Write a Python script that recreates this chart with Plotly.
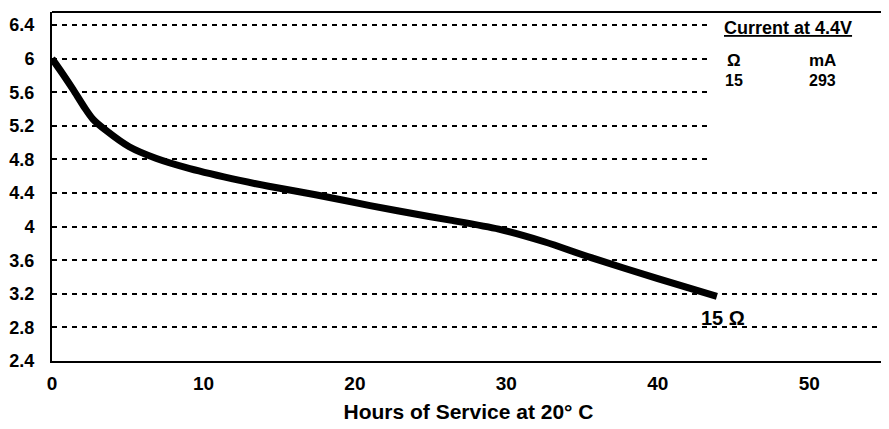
import plotly.graph_objects as go

hours = [0, 0.7, 1.4, 2.1, 2.7, 3.6, 5.1, 6.9, 9.1, 12.4, 14.3, 17.4, 21.0, 24.9, 26.2, 29.5, 32.5, 35.6, 40.0, 43.9]
voltage = [6.0, 5.82, 5.63, 5.43, 5.28, 5.14, 4.95, 4.81, 4.69, 4.55, 4.48, 4.38, 4.25, 4.12, 4.08, 3.97, 3.82, 3.63, 3.38, 3.17]

y_ticks = [2.4, 2.8, 3.2, 3.6, 4.0, 4.4, 4.8, 5.2, 5.6, 6.0, 6.4]
y_tick_text = ["2.4", "2.8", "3.2", "3.6", "4", "4.4", "4.8", "5.2", "5.6", "6", "6.4"]
x_ticks = [0, 10, 20, 30, 40, 50]

table_title = "Current at 4.4V"
table_headers = ["Ω", "mA"]
table_values = ["15", "293"]
curve_label = "15 Ω"

FONT = "Liberation Sans, Arial, sans-serif"

fig = go.Figure()
fig.add_trace(go.Scatter(
    x=hours, y=voltage, mode="lines",
    line=dict(color="black", width=7, shape="spline", smoothing=0.8),
    hoverinfo="skip", showlegend=False,
))

fig.update_layout(
    width=881, height=421,
    margin=dict(l=44, r=4, t=4, b=68),
    paper_bgcolor="white", plot_bgcolor="white",
    font=dict(family=FONT, color="black"),
    showlegend=False,
    xaxis=dict(
        range=[0, 55], tickvals=x_ticks, showgrid=False, zeroline=False,
        showline=True, linecolor="black", linewidth=2, automargin=False,
        tickfont=dict(size=19, family=FONT, weight="bold"),
        ticks="", ticklabelstandoff=4,
        title=dict(text="Hours of Service at 20° C",
                   font=dict(size=21, family=FONT, weight="bold"), standoff=12),
    ),
    yaxis=dict(
        range=[2.4, 6.555], tickvals=y_ticks, ticktext=y_tick_text,
        showgrid=True, gridcolor="black", gridwidth=2, griddash="5px,5px",
        zeroline=False, showline=True, linecolor="black", linewidth=2, automargin=False,
        tickfont=dict(size=18, family=FONT, weight="bold"),
        ticks="", ticklabelstandoff=12,
    ),
)

# blank panel behind the data table (grid lines stop there)
fig.add_shape(type="rect", xref="x", yref="y", x0=43.3, x1=55, y0=4.62, y1=6.53,
              fillcolor="white", line=dict(width=0), layer="between")
# top frame line
fig.add_shape(type="line", xref="paper", yref="paper", x0=0, x1=1, y0=1, y1=1,
              line=dict(color="black", width=2))

fig.add_annotation(x=48.6, y=6.36, text="<u>" + table_title + "</u>", showarrow=False,
                   font=dict(size=18, family=FONT, weight="bold"))
for xv, h, v in zip([45.0, 50.9], table_headers, table_values):
    fig.add_annotation(x=xv, y=5.98, text=h, showarrow=False,
                       font=dict(size=17, family=FONT, weight="bold"))
    fig.add_annotation(x=xv, y=5.74, text=v, showarrow=False,
                       font=dict(size=16, family=FONT, weight="bold"))
fig.add_annotation(x=hours[-1] + 0.4, y=2.91, text=curve_label, showarrow=False,
                   font=dict(size=20, family=FONT, weight="bold"))

fig.write_html("out.html")
